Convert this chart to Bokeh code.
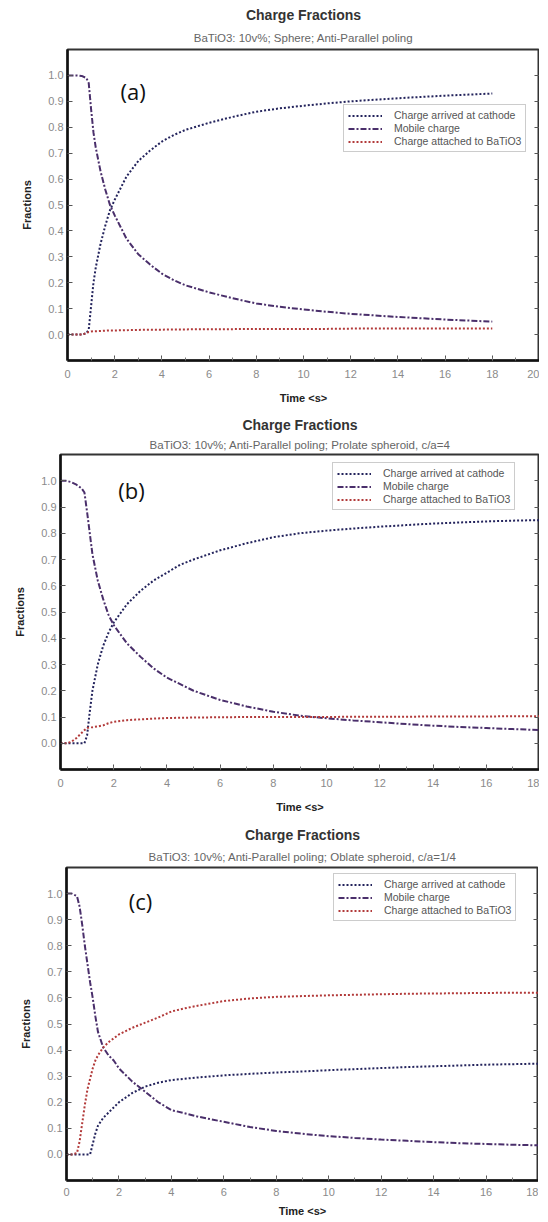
from bokeh.plotting import figure
from bokeh.models import Range1d, FixedTicker, NumeralTickFormatter, LinearAxis, Title, Label
from bokeh.embed import file_html
from bokeh.resources import INLINE

SERIES = ["Charge arrived at cathode", "Mobile charge", "Charge attached to BaTiO3"]

# ---- Panel (a): Sphere ----
t_a = [0, 0.2, 0.4, 0.6, 0.8, 0.9, 1.0, 1.1, 1.2, 1.4, 1.6, 1.8, 2.0, 2.5, 3.0, 3.5, 4.0, 4.5,
       5, 6, 7, 8, 9, 10, 11, 12, 13, 14, 15, 16, 17, 18]
arrived_a = [0, 0, 0, 0, 0.005, 0.02, 0.11, 0.2, 0.26, 0.35, 0.42, 0.48, 0.52, 0.61, 0.67, 0.71,
             0.745, 0.77, 0.79, 0.817, 0.84, 0.86, 0.873, 0.883, 0.892, 0.9, 0.906, 0.912, 0.917,
             0.922, 0.926, 0.93]
mobile_a = [1.0, 1.0, 1.0, 0.998, 0.99, 0.97, 0.87, 0.78, 0.72, 0.63, 0.56, 0.5, 0.46, 0.37, 0.31,
            0.27, 0.235, 0.21, 0.19, 0.163, 0.14, 0.12, 0.107, 0.097, 0.088, 0.08, 0.074, 0.068,
            0.063, 0.058, 0.054, 0.05]
attached_a = [0, 0, 0, 0, 0.005, 0.01, 0.012, 0.013, 0.013, 0.014, 0.015, 0.016, 0.016, 0.017,
              0.018, 0.019, 0.019, 0.02, 0.02, 0.021, 0.021, 0.022, 0.022, 0.022, 0.022, 0.023,
              0.023, 0.023, 0.023, 0.023, 0.023, 0.023]

# ---- Panel (b): Prolate spheroid ----
t_b = [0, 0.2, 0.4, 0.6, 0.8, 0.9, 1.0, 1.1, 1.2, 1.4, 1.6, 1.8, 2.0, 2.5, 3.0, 3.5, 4.0, 4.5,
       5, 6, 7, 8, 9, 10, 11, 12, 13, 14, 15, 16, 17, 18]
arrived_b = [0, 0, 0, 0, 0, 0, 0.03, 0.12, 0.2, 0.3, 0.37, 0.42, 0.46, 0.53, 0.58, 0.62, 0.65,
             0.68, 0.7, 0.735, 0.762, 0.785, 0.8, 0.81, 0.818, 0.825, 0.831, 0.837, 0.841, 0.845,
             0.848, 0.85]
mobile_b = [1.0, 1.0, 0.995, 0.985, 0.97, 0.955, 0.88, 0.8, 0.72, 0.62, 0.55, 0.49, 0.45, 0.38,
            0.33, 0.285, 0.25, 0.225, 0.2, 0.165, 0.14, 0.12, 0.105, 0.095, 0.087, 0.08, 0.073,
            0.067, 0.062, 0.058, 0.054, 0.05]
attached_b = [0, 0, 0.005, 0.02, 0.04, 0.05, 0.058, 0.06, 0.061, 0.064, 0.068, 0.076, 0.082, 0.088,
              0.091, 0.094, 0.096, 0.097, 0.098, 0.099, 0.1, 0.1, 0.1, 0.1, 0.101, 0.101, 0.101,
              0.102, 0.102, 0.102, 0.103, 0.103]

# ---- Panel (c): Oblate spheroid ----
t_c = [0, 0.2, 0.4, 0.5, 0.6, 0.7, 0.8, 0.9, 1.0, 1.1, 1.2, 1.4, 1.6, 1.8, 2.0, 2.5, 3.0, 3.5,
       4.0, 4.5, 5, 6, 7, 8, 9, 10, 11, 12, 13, 14, 15, 16, 17, 18]
arrived_c = [0, 0, 0, 0, 0, 0, 0, 0, 0.04, 0.08, 0.11, 0.14, 0.16, 0.18, 0.2, 0.235, 0.26, 0.275,
             0.285, 0.29, 0.295, 0.303, 0.309, 0.314, 0.318, 0.323, 0.327, 0.331, 0.335, 0.338,
             0.341, 0.344, 0.346, 0.348]
mobile_c = [1.0, 1.0, 0.99, 0.95, 0.88, 0.8, 0.73, 0.66, 0.6, 0.53, 0.47, 0.41, 0.38, 0.36, 0.33,
            0.28, 0.24, 0.2, 0.17, 0.158, 0.145, 0.125, 0.105, 0.09, 0.079, 0.07, 0.063, 0.057,
            0.052, 0.047, 0.043, 0.04, 0.037, 0.035]
attached_c = [0, 0, 0.005, 0.05, 0.12, 0.19, 0.25, 0.29, 0.33, 0.36, 0.38, 0.41, 0.43, 0.445,
              0.46, 0.485, 0.505, 0.525, 0.548, 0.56, 0.57, 0.588, 0.598, 0.604, 0.607, 0.61,
              0.612, 0.614, 0.616, 0.617, 0.618, 0.619, 0.62, 0.62]

subtitles = ["BaTiO3: 10v%; Sphere; Anti-Parallel poling",
             "BaTiO3: 10v%; Anti-Parallel poling; Prolate spheroid, c/a=4",
             "BaTiO3: 10v%; Anti-Parallel poling; Oblate spheroid, c/a=1/4"]
tags = ["(a)", "(b)", "(c)"]
x_max = [20, 18, 18]
y_ticks = [0.0, 0.1, 0.2, 0.3, 0.4, 0.5, 0.6, 0.7, 0.8, 0.9, 1.0]

FONT = "Liberation Sans"
C_ARR = "#23235c"
C_MOB = "#4a2f6b"
C_ATT = "#b23a3a"


def make_panel(t, arrived, mobile, attached, subtitle, tag, xmax, geom, legend_xy, tag_xy,
               sub_standoff, x_standoffs):
    fl, fw, fr, ft, fh, fb = geom
    p = figure(frame_width=fw, frame_height=fh,
               min_border_left=fl, min_border_right=fr, min_border_top=ft, min_border_bottom=fb,
               x_range=Range1d(0, xmax), y_range=Range1d(-0.1, 1.1),
               output_backend="svg", toolbar_location=None)
    p.background_fill_color = "white"
    p.border_fill_color = "white"
    p.xgrid.visible = False
    p.ygrid.visible = False
    p.outline_line_color = "#333333"
    p.outline_line_width = 2

    p.line(t, arrived, color=C_ARR, line_width=2, line_dash="2 2", legend_label=SERIES[0])
    p.line(t, mobile, color=C_MOB, line_width=2, line_dash="6 2 2 2", legend_label=SERIES[1])
    p.line(t, attached, color=C_ATT, line_width=2, line_dash="2 2", legend_label=SERIES[2])

    xt = FixedTicker(ticks=list(range(0, xmax + 1, 2)), minor_ticks=list(range(0, xmax + 1)))
    yt = FixedTicker(ticks=y_ticks, minor_ticks=[])

    xa = p.xaxis[0]
    xa.ticker = xt
    ya = p.yaxis[0]
    ya.ticker = yt
    ya.formatter = NumeralTickFormatter(format="0.0")
    for ax in (xa, ya):
        ax.axis_line_color = "#111111"
        ax.axis_line_width = 2.5
        ax.major_tick_in = 5
        ax.major_tick_out = 0
        ax.minor_tick_in = 3
        ax.minor_tick_out = 0
        ax.major_tick_line_color = "#555555"
        ax.minor_tick_line_color = "#777777"
        ax.major_label_text_font = FONT
        ax.major_label_text_font_size = "11px"
        ax.major_label_text_color = "#8a8a8a"
        ax.axis_label_text_font = FONT
        ax.axis_label_text_font_size = "11px"
        ax.axis_label_text_font_style = "bold"
        ax.axis_label_text_color = "#222222"
    xa.axis_label = "Time <s>"
    xa.major_label_standoff = x_standoffs[0]
    xa.axis_label_standoff = x_standoffs[1]
    ya.axis_label = "Fractions"
    ya.major_label_standoff = 4
    ya.axis_label_standoff = 12

    ra = LinearAxis(ticker=yt, major_label_text_font_size="1px", major_label_standoff=0,
                    major_label_text_color=None,
                    axis_line_color=None, major_tick_in=5, major_tick_out=0,
                    major_tick_line_color="#555555")
    p.add_layout(ra, "right")

    p.title.text = "Charge Fractions"
    p.title.align = "center"
    p.title.standoff = 2
    p.title.text_font = FONT
    p.title.text_font_size = "14px"
    p.title.text_font_style = "bold"
    p.title.text_color = "#333333"
    p.add_layout(Title(text=subtitle, align="center", standoff=sub_standoff, text_font=FONT,
                       text_font_size="11.5px", text_font_style="normal", text_color="#666666"),
                 "above")

    p.add_layout(Label(x=tag_xy[0], y=tag_xy[1], text=tag, text_font="Open Sans",
                       text_font_size="22px", text_color="#111111",
                       text_align="left", text_baseline="middle"))

    lg = p.legend[0]
    lg.location = legend_xy
    lg.border_line_color = "#999999"
    lg.border_line_width = 1
    lg.background_fill_color = "white"
    lg.background_fill_alpha = 1
    lg.label_text_font = FONT
    lg.label_text_font_size = "10.5px"
    lg.label_text_color = "#555555"
    lg.glyph_width = 34
    lg.glyph_height = 11
    lg.label_height = 11
    lg.label_standoff = 12
    lg.spacing = 1
    lg.padding = 4
    lg.margin = 0
    return p


pa = make_panel(t_a, arrived_a, mobile_a, attached_a, subtitles[0], tags[0], x_max[0],
                (67, 472, 0, 49, 311, 45), (276, 208), (2.25, 0.94), 12, (9, 11))
pb = make_panel(t_b, arrived_b, mobile_b, attached_b, subtitles[1], tags[1], x_max[1],
                (60, 479, 0, 48, 315, 47), (272, 259), (2.17, 0.965), 7, (9, 11))
pc = make_panel(t_c, arrived_c, mobile_c, attached_c, subtitles[2], tags[2], x_max[2],
                (66, 472, 0, 51, 313, 40), (267, 259), (2.37, 0.973), 10, (7, 6))

open("out.html", "w").write(file_html([pa, pb, pc], INLINE))
